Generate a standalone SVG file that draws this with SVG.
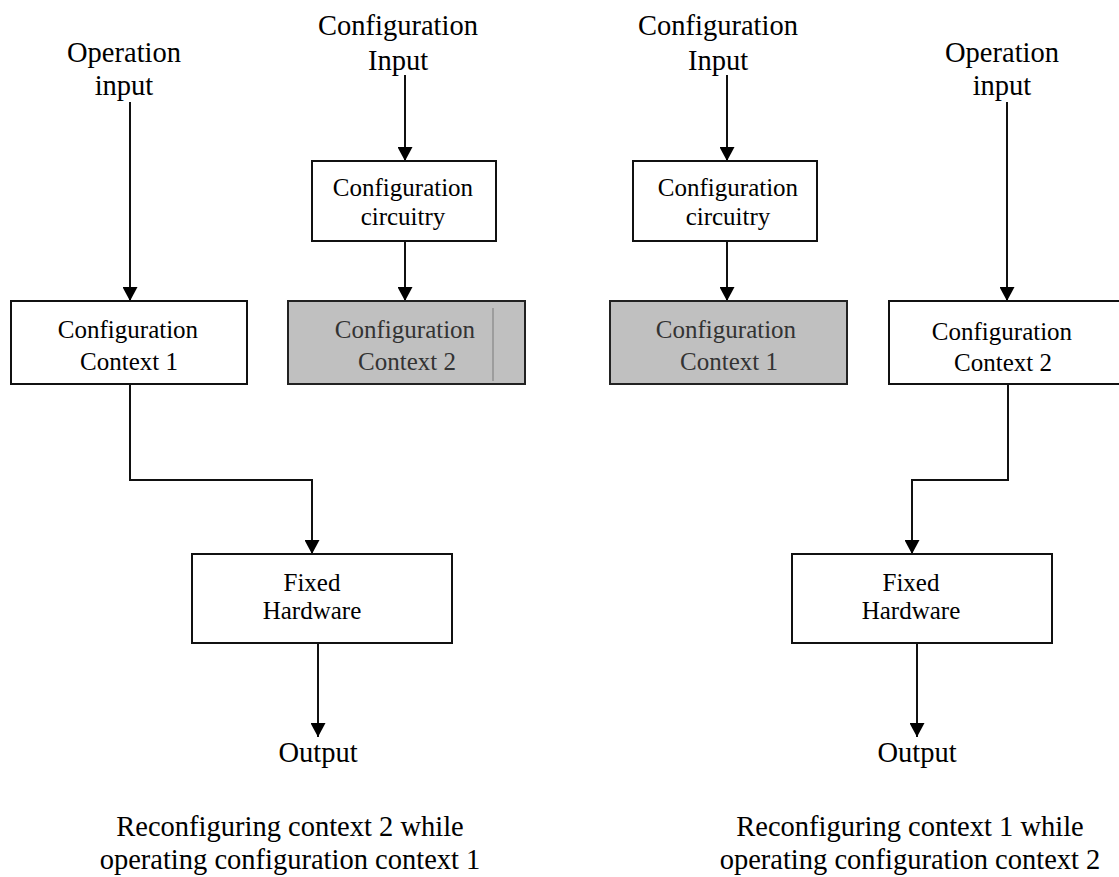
<svg xmlns="http://www.w3.org/2000/svg" width="1119" height="877" viewBox="0 0 1119 877">
  <style>
    .bg { fill: #ffffff; }
    .box { fill: #ffffff; stroke: #111111; stroke-width: 2; }
    .shaded { fill: #c0c0c0; stroke: #222222; stroke-width: 2; }
    .divider { stroke: #7a7a7a; stroke-width: 1; }
    .wire { fill: none; stroke: #111111; stroke-width: 2; }
    text { font-family: "Liberation Serif", "Times New Roman", serif; fill: #000000; text-anchor: middle; }
    .lbl { font-size: 28.5px; }
    .in { font-size: 25px; }
    .dim { fill: #333333; }
    .cap { font-size: 28.5px; }
  </style>
  <defs>
    <marker id="arrow" viewBox="0 0 14 15" refX="14" refY="7.5" markerWidth="14" markerHeight="15" markerUnits="userSpaceOnUse" orient="auto">
      <path d="M0,0 L14,7.5 L0,15 Z" fill="#000000"/>
    </marker>
  </defs>

  <rect class="bg" x="0" y="0" width="1119" height="877"/>

  <!-- connectors -->
  <g id="connectors">
    <!-- left panel -->
    <line class="wire" x1="130" y1="102" x2="130" y2="301" marker-end="url(#arrow)"/>
    <line class="wire" x1="405" y1="75" x2="405" y2="161" marker-end="url(#arrow)"/>
    <line class="wire" x1="405" y1="241" x2="405" y2="301" marker-end="url(#arrow)"/>
    <polyline class="wire" points="130,384 130,480 312,480 312,554" marker-end="url(#arrow)"/>
    <line class="wire" x1="318" y1="643" x2="318" y2="737" marker-end="url(#arrow)"/>
    <!-- right panel -->
    <line class="wire" x1="1007" y1="102" x2="1007" y2="301" marker-end="url(#arrow)"/>
    <line class="wire" x1="727" y1="75" x2="727" y2="161" marker-end="url(#arrow)"/>
    <line class="wire" x1="727" y1="241" x2="727" y2="301" marker-end="url(#arrow)"/>
    <polyline class="wire" points="1008,384 1008,480 912,480 912,554" marker-end="url(#arrow)"/>
    <line class="wire" x1="917" y1="643" x2="917" y2="737" marker-end="url(#arrow)"/>
  </g>

  <!-- left panel: reconfiguring context 2 -->
  <g id="op-input-left">
    <text class="lbl" x="124" y="62">Operation</text>
    <text class="lbl" x="124" y="95">input</text>
  </g>
  <g id="cfg-input-left">
    <text class="lbl" x="398" y="35">Configuration</text>
    <text class="lbl" x="398" y="70">Input</text>
  </g>
  <g id="cfg-circuitry-left">
    <rect class="box" x="312" y="161" width="184" height="80"/>
    <text class="in" x="403" y="196">Configuration</text>
    <text class="in" x="403" y="225">circuitry</text>
  </g>
  <g id="context1-left">
    <rect class="box" x="11" y="301" width="236" height="83"/>
    <text class="in" x="128" y="338">Configuration</text>
    <text class="in" x="129" y="370">Context 1</text>
  </g>
  <g id="context2-left">
    <rect class="shaded" x="288" y="301" width="237" height="83"/>
    <line class="divider" x1="493" y1="308" x2="493" y2="381"/>
    <text class="in dim" x="405" y="338">Configuration</text>
    <text class="in dim" x="407" y="370">Context 2</text>
  </g>
  <g id="fixed-hw-left">
    <rect class="box" x="192" y="554" width="260" height="89"/>
    <text class="in" x="312" y="591">Fixed</text>
    <text class="in" x="312" y="619">Hardware</text>
  </g>
  <g id="output-left">
    <text class="lbl" x="318" y="762">Output</text>
  </g>
  <g id="caption-left">
    <text class="cap" x="290" y="836">Reconfiguring context 2 while</text>
    <text class="cap" x="290" y="869">operating configuration context 1</text>
  </g>

  <!-- right panel: reconfiguring context 1 -->
  <g id="cfg-input-right">
    <text class="lbl" x="718" y="35">Configuration</text>
    <text class="lbl" x="718" y="70">Input</text>
  </g>
  <g id="op-input-right">
    <text class="lbl" x="1002" y="62">Operation</text>
    <text class="lbl" x="1002" y="95">input</text>
  </g>
  <g id="cfg-circuitry-right">
    <rect class="box" x="633" y="161" width="184" height="80"/>
    <text class="in" x="728" y="196">Configuration</text>
    <text class="in" x="728" y="225">circuitry</text>
  </g>
  <g id="context1-right">
    <rect class="shaded" x="610" y="301" width="237" height="83"/>
    <text class="in dim" x="726" y="338">Configuration</text>
    <text class="in dim" x="729" y="370">Context 1</text>
  </g>
  <g id="context2-right">
    <rect class="box" x="889" y="301" width="240" height="83"/>
    <text class="in" x="1002" y="340">Configuration</text>
    <text class="in" x="1003" y="371">Context 2</text>
  </g>
  <g id="fixed-hw-right">
    <rect class="box" x="792" y="554" width="260" height="89"/>
    <text class="in" x="911" y="591">Fixed</text>
    <text class="in" x="911" y="619">Hardware</text>
  </g>
  <g id="output-right">
    <text class="lbl" x="917" y="762">Output</text>
  </g>
  <g id="caption-right">
    <text class="cap" x="910" y="836">Reconfiguring context 1 while</text>
    <text class="cap" x="910" y="869">operating configuration context 2</text>
  </g>
</svg>
